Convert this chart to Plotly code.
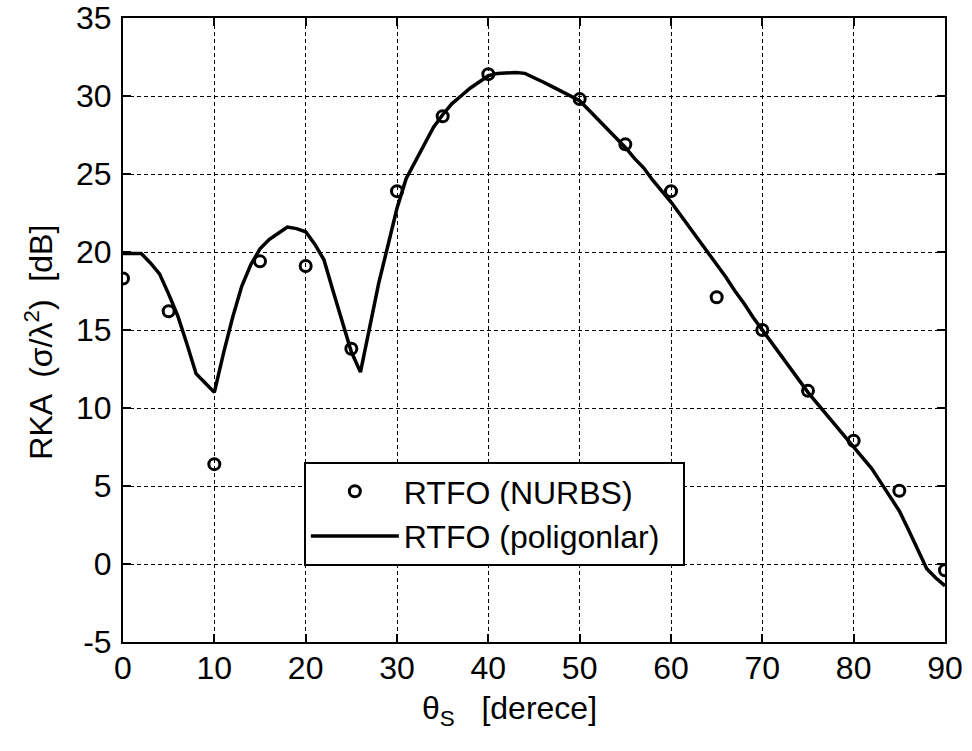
import plotly.graph_objects as go

# NURBS (markers)
theta_nurbs = [0, 5, 10, 15, 20, 25, 30, 35, 40, 50, 55, 60, 65, 70, 75, 80, 85, 90]
rka_nurbs = [18.3, 16.2, 6.4, 19.4, 19.1, 13.8, 23.9, 28.7, 31.4, 29.8, 26.9, 23.9,
             17.1, 15.0, 11.1, 7.9, 4.7, -0.4]

# Polygons (line)
theta_poly = list(range(0, 91))
rka_poly = [19.9, 19.9, 19.9, 19.3, 18.6, 17.3, 15.9, 14.1, 12.2, 11.6,
            11.0, 13.5, 15.8, 17.8, 19.2, 20.2, 20.8, 21.2, 21.6, 21.5,
            21.3, 20.5, 19.5, 17.5, 15.5, 13.6, 12.3, 15.2, 18.0, 20.4,
            22.8, 24.7, 25.8, 26.9, 28.0, 28.8, 29.5, 30.0, 30.5, 30.9,
            31.3, 31.45, 31.5, 31.5, 31.45, 31.2, 30.9, 30.6, 30.3, 30.0,
            29.7, 29.1, 28.5, 27.9, 27.3, 26.7, 26.0, 25.4, 24.6, 23.9,
            23.2, 22.4, 21.6, 20.8, 20.0, 19.2, 18.4, 17.5, 16.7, 15.8,
            15.0, 14.2, 13.4, 12.6, 11.8, 11.0, 10.3, 9.6, 8.9, 8.2,
            7.5, 6.8, 6.1, 5.2, 4.3, 3.4, 2.2, 1.0, -0.3, -0.9, -1.4]

x_ticks = [0, 10, 20, 30, 40, 50, 60, 70, 80, 90]
y_ticks = [-5, 0, 5, 10, 15, 20, 25, 30, 35]
y_tick_labels = ["-5", "0", "5", "10", "15", "20", "25", "30", "35"]

FONT = "Arial, Liberation Sans, Helvetica, sans-serif"
FS = 32
NB = "\u00a0"

fig = go.Figure()
fig.add_trace(go.Scatter(
    x=theta_nurbs, y=rka_nurbs, mode="markers", name="RTFO (NURBS)",
    marker=dict(symbol="circle-open", size=11, color="black", line=dict(width=3, color="black")),
))
fig.add_trace(go.Scatter(
    x=theta_poly, y=rka_poly, mode="lines", name="RTFO (poligonlar)" + NB * 2,
    line=dict(color="black", width=3.5),
))

axis_common = dict(
    showline=True, linecolor="black", linewidth=2, mirror="ticks",
    ticks="inside", ticklen=8, tickwidth=2, tickcolor="black",
    showgrid=True, gridcolor="black", gridwidth=1, griddash="4px,3px",
    zeroline=False, automargin=False, ticklabeloverflow="allow",
    tickfont=dict(family=FONT, size=FS, color="black"),
)

fig.update_layout(
    width=972, height=751,
    margin=dict(l=123, r=27, t=18, b=109, autoexpand=False),
    paper_bgcolor="white", plot_bgcolor="white",
    font=dict(family=FONT, color="black"),
    xaxis=dict(range=[0, 90], tickvals=x_ticks, ticklabelstandoff=-3, **axis_common),
    yaxis=dict(range=[-5, 35], tickvals=y_ticks, ticktext=y_tick_labels,
               ticklabelstandoff=3, **axis_common),
    legend=dict(
        x=0.22, y=0.2885, xanchor="left", yanchor="top",
        bgcolor="white", bordercolor="black", borderwidth=2,
        font=dict(family=FONT, size=FS, color="black"),
        itemwidth=88,
    ),
    showlegend=True,
    annotations=[
        dict(text="RKA  (σ/λ<sup>2</sup>)  [dB]", textangle=-90,
             xref="paper", yref="paper", x=-0.102, y=0.48,
             xanchor="center", yanchor="middle", showarrow=False,
             font=dict(family=FONT, size=FS, color="black")),
        dict(text="θ<sub>S</sub>   [derece]",
             xref="paper", yref="paper", x=0.47, y=-0.11,
             xanchor="center", yanchor="middle", showarrow=False,
             font=dict(family=FONT, size=FS, color="black")),
    ],
)

fig.write_html("out.html", config={"displayModeBar": False},
               post_script="document.body.style.margin='0';")
